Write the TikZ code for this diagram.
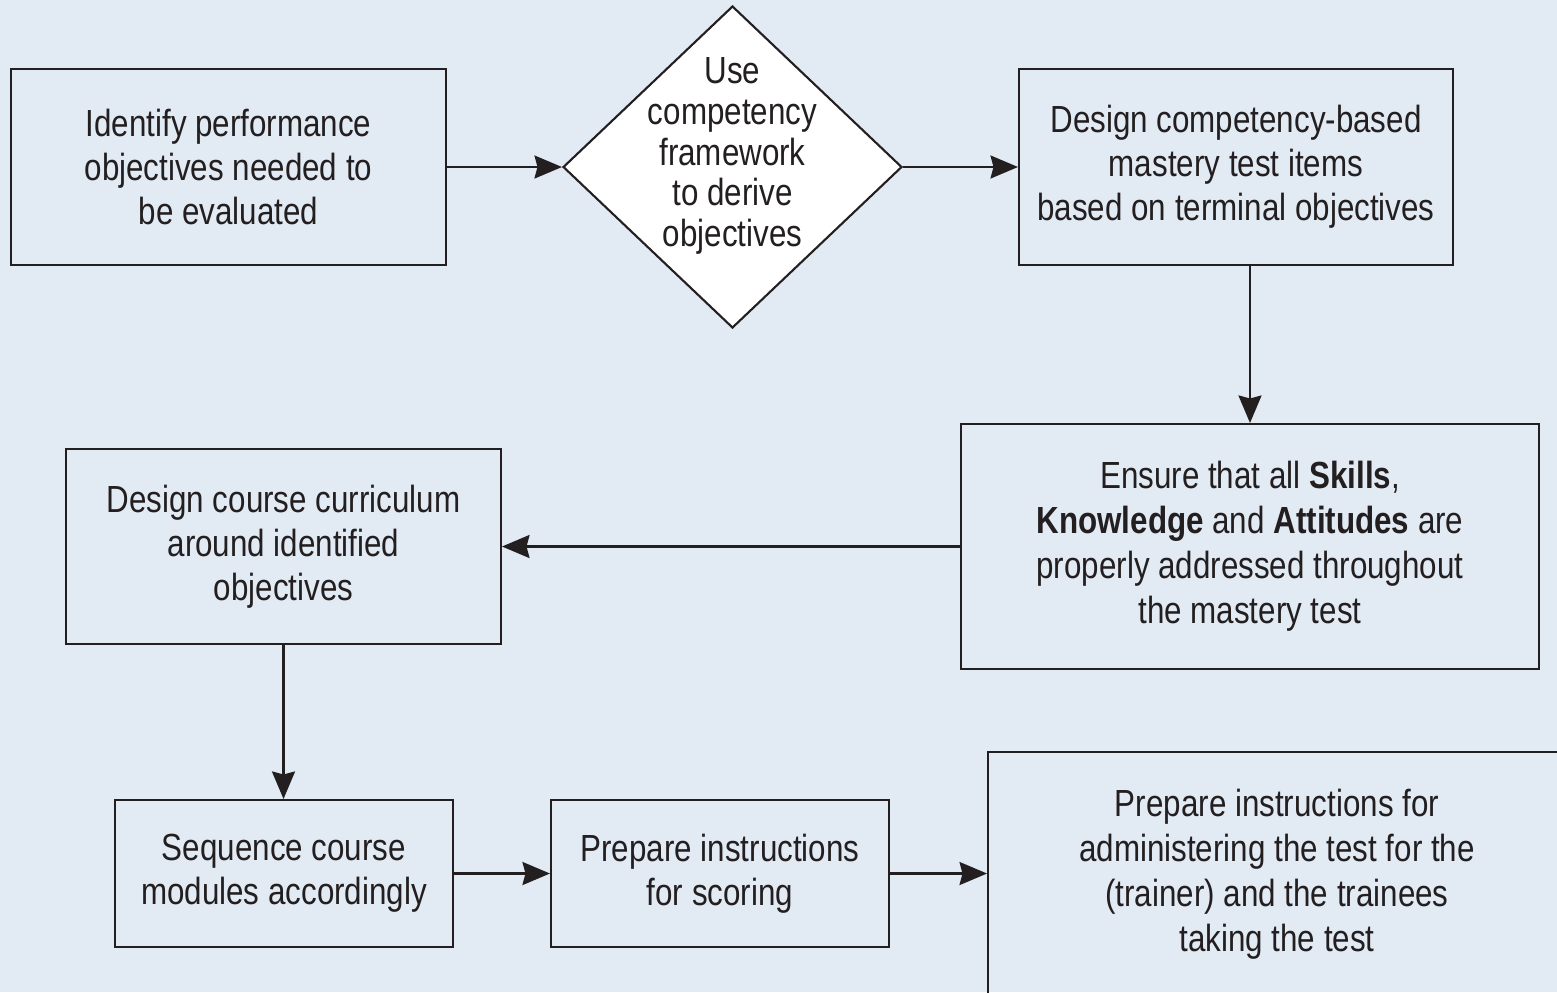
\documentclass[tikz,border=0pt]{standalone}
\usepackage{fontspec}
\setmainfont{Liberation Sans}[FakeStretch=0.83]
\usetikzlibrary{shapes.geometric,arrows.meta}
\definecolor{bgblue}{RGB}{226,234,244}
\definecolor{ink}{RGB}{35,31,32}
\begin{document}
\begin{tikzpicture}[x=0.02cm,y=-0.02cm,
  font=\fontsize{21.5pt}{25pt}\selectfont,
  every node/.style={text=ink},
  stepbox/.style={draw=ink,line width=1.2pt,align=center,inner sep=0pt},
  flow/.style={draw=ink,line width=1.3pt,-{Stealth[length=0.55cm,width=0.46cm,inset=0.06cm]}}]
  % canvas
  \useasboundingbox (0,0) rectangle (1557,992);
  \fill[bgblue] (0,0) rectangle (1557,992);
  \clip (0,0) rectangle (1557,992);

  % top row
  \node[stepbox,minimum width=8.7cm,minimum height=3.92cm] (ident) at (228.5,167)
    {Identify performance\\objectives needed to\\be evaluated};
  \node[draw=ink,fill=white,line width=1.2pt,diamond,minimum width=6.78cm,minimum height=6.44cm,inner sep=0pt] (frame) at (732.5,167) {};
  \node[align=center,font=\fontsize{21.5pt}{23.2pt}\selectfont] (frametext) at (732.5,156)
    {Use\\competency\\framework\\to derive\\objectives};
  \node[stepbox,minimum width=8.68cm,minimum height=3.92cm] (design) at (1236,167)
    {Design competency-based\\mastery test items\\based on terminal objectives};

  % middle row
  \node[stepbox,minimum width=11.56cm,minimum height=4.9cm,font=\fontsize{21.5pt}{25.6pt}\selectfont] (ensure) at (1250,546.5)
    {Ensure that all \textbf{Skills},\\\textbf{Knowledge} and \textbf{Attitudes} are\\properly addressed throughout\\the mastery test};
  \node[stepbox,minimum width=8.7cm,minimum height=3.9cm] (curric) at (283.5,546.5)
    {Design course curriculum\\around identified\\objectives};

  % bottom row
  \node[stepbox,minimum width=6.76cm,minimum height=2.94cm] (seq) at (284,873.5)
    {Sequence course\\modules accordingly};
  \node[stepbox,minimum width=6.76cm,minimum height=2.94cm] (score) at (720,873.5)
    {Prepare instructions\\for scoring};
  \node[stepbox,minimum width=11.56cm,minimum height=4.9cm,font=\fontsize{21.5pt}{25.6pt}\selectfont] (admin) at (1277,874.5)
    {Prepare instructions for\\administering the test for the\\(trainer) and the trainees\\taking the test};

  % connectors
  \draw[flow] (ident.east) -- (frame.west);
  \draw[flow] (frame.east) -- (design.west);
  \draw[flow] (ensure.north |- design.south) -- (ensure.north);
  \draw[flow] (ensure.west) -- (curric.east);
  \draw[flow] (curric.south) -- (curric.south |- seq.north);
  \draw[flow] (seq.east) -- (score.west);
  \draw[flow] (score.east) -- (score.east -| admin.west);
\end{tikzpicture}
\end{document}
